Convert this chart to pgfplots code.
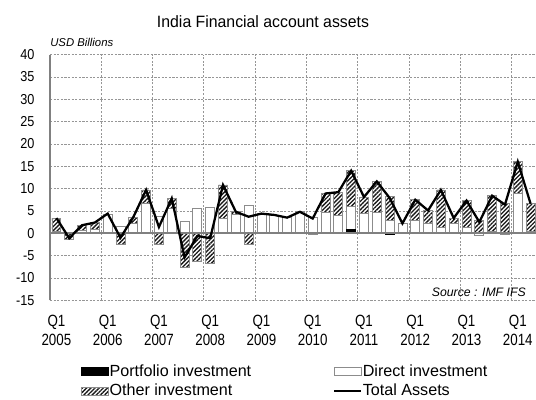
\documentclass[border=0pt]{standalone}
\usepackage{fontspec}
\setmainfont{Liberation Sans}
\newfontfamily\xfont[FakeStretch=0.82]{Liberation Sans}
\newfontfamily\yfont[FakeStretch=0.88]{Liberation Sans}
\newfontfamily\tfont[FakeStretch=0.965]{Liberation Sans}
\usepackage{pgfplots}
\pgfplotsset{compat=1.18}
\usepackage{pgfplotstable}
\usetikzlibrary{patterns.meta}

\pgfplotstableread{
i po di ot tot
0 0 0.4 3.0 3.4
1 0 0.3 -1.4 -1.1
2 0 0.7 1.1 1.8
3 0 0.8 1.6 2.4
4 0 4.3 0 4.4
5 0 1.5 -2.5 -1.0
6 0 2.1 1.5 3.6
7 0 6.7 3.0 9.7
8 0 3.8 -2.4 1.4
9 0 5.5 2.3 7.8
10 0 2.7 -7.7 -5.4
11 0 5.6 -6.2 -0.6
12 0 5.7 -6.8 -1.1
13 0 3.3 7.5 10.8
14 0 4.3 0.5 4.8
15 0 6.2 -2.5 3.7
16 0 4.4 0 4.4
17 0 4.1 0 4.1
18 0 3.5 0 3.5
19 0 4.8 0 4.8
20 0 3.5 -0.2 3.3
21 0 4.7 4.2 8.9
22 0 4.0 5.2 9.2
23 0.8 5.1 8.1 14.0
24 0 4.5 3.6 8.1
25 0 4.7 6.9 11.6
26 -0.3 2.9 5.3 7.9
27 0 2.2 0 2.2
28 0 2.9 4.6 7.5
29 0 2.3 2.8 5.1
30 0 1.4 8.3 9.7
31 0 2.2 1.2 3.4
32 0 1.4 5.9 7.3
33 0 -0.4 2.9 2.5
34 0 0.5 7.9 8.4
35 0 -0.3 6.7 6.4
36 0 9.0 7.0 16.0
37 0 0.4 6.2 6.6
}\datatable

\definecolor{baredge}{RGB}{140,140,140}
\definecolor{gridc}{RGB}{150,150,150}
\definecolor{axisc}{RGB}{128,128,128}

\tikzset{
  hatch/.style={draw=baredge, line width=0.6pt, preaction={fill=white},
    pattern={Lines[angle=45,distance=2.2pt,line width=1pt]}, pattern color=black!90},
}
\pgfplotsset{
  base/.style={
    scale only axis, width=365.25pt, height=184.35pt,
    at={(37.5pt,-40.875pt)}, anchor=north west,
    xmin=-0.5, xmax=37.5, ymin=-15, ymax=40,
  },
}

\begin{document}
\begin{tikzpicture}
\useasboundingbox (0pt,0pt) rectangle (402pt,-300pt);

% axis 1: grid, axes, positive stacks
\begin{axis}[base,
  ybar stacked, bar width=0.7,
  axis x line*=bottom, axis y line*=left,
  x axis line style={draw=none,-},
  y axis line style={draw=axisc, line width=1.5pt, -},
  ytick={-15,-10,...,40},
  ymajorgrids,
  major grid style={gridc, line width=0.5pt, dash pattern=on 1.6pt off 1.1pt},
  xtick={0,4,...,36},
  xticklabels={Q1\\2005,Q1\\2006,Q1\\2007,Q1\\2008,Q1\\2009,Q1\\2010,Q1\\2011,Q1\\2012,Q1\\2013,Q1\\2014},
  extra x ticks={3.5,7.5,...,35.5},
  extra x tick labels={},
  extra x tick style={grid=major},
  major tick length=0pt,
  tick style={draw=none},
  /pgf/number format/assume math mode=true,
  yticklabel style={font=\yfont\fontsize{10.8}{12}\selectfont, inner sep=0pt, xshift=-11.5pt},
  xticklabel style={font=\xfont\fontsize{12.2}{14.5}\selectfont, align=center, inner sep=0pt, yshift=-10.6pt},
]
\addplot[fill=black, draw=black, line width=0.4pt] table[x=i, y expr={max(\thisrow{po},0)}] {\datatable};
\addplot[fill=white, draw=baredge, line width=0.6pt] table[x=i, y expr={max(\thisrow{di},0)}] {\datatable};
\addplot[hatch] table[x=i, y expr={max(\thisrow{ot},0)}] {\datatable};
\end{axis}

% axis 2: negative stacks
\begin{axis}[base, hide axis, ybar stacked, bar width=0.7]
\addplot[fill=black, draw=black, line width=0.4pt] table[x=i, y expr={min(\thisrow{po},0)}] {\datatable};
\addplot[fill=white, draw=baredge, line width=0.6pt] table[x=i, y expr={min(\thisrow{di},0)}] {\datatable};
\addplot[hatch] table[x=i, y expr={min(\thisrow{ot},0)}] {\datatable};
\end{axis}

% axis 3: zero line, total line, legend
\begin{axis}[base, hide axis,
  legend columns=2,
  legend cell align=left,
  legend style={at={(0.0637,-0.257)}, anchor=north west, draw=none, fill=none,
    inner sep=0pt, row sep=3pt,
    font=\fontsize{12.1}{14}\selectfont,
    nodes={inner sep=0.6pt, text height=8.6pt, text depth=2pt},
    /tikz/every even column/.append style={column sep=61pt}},
]
\draw[axisc, line width=1.5pt] (axis cs:-0.5,0) -- (axis cs:37.5,0);
\addlegendimage{legend image code/.code={\draw[fill=black,draw=black] (0pt,-3pt) rectangle (20pt,3pt);}}
\addlegendentry{Portfolio investment}
\addlegendimage{legend image code/.code={\draw[fill=white,draw=baredge,line width=0.6pt] (0pt,-3pt) rectangle (20pt,3pt);}}
\addlegendentry{Direct investment}
\addlegendimage{legend image code/.code={\draw[hatch] (0pt,-3pt) rectangle (20pt,3pt);}}
\addlegendentry{Other investment}
\addlegendimage{legend image code/.code={\draw[black,line width=1.5pt] (0pt,0pt) -- (20pt,0pt);}}
\addlegendentry{Total Assets}
\addplot[black, line width=1.7pt, mark=none, forget plot] table[x=i, y=tot] {\datatable};
\end{axis}

\node[font=\tfont\fontsize{12.3}{14}\selectfont] at (197.25pt,-16pt) {India Financial account assets};
\node[font=\itshape\fontsize{8.5}{10}\selectfont, anchor=west, inner sep=0pt] at (37.5pt,-31.5pt) {USD Billions};
\node[font=\itshape\fontsize{9.2}{11}\selectfont, anchor=east, inner sep=0pt] at (394.5pt,-219pt) {Source : IMF IFS};
\end{tikzpicture}
\end{document}
